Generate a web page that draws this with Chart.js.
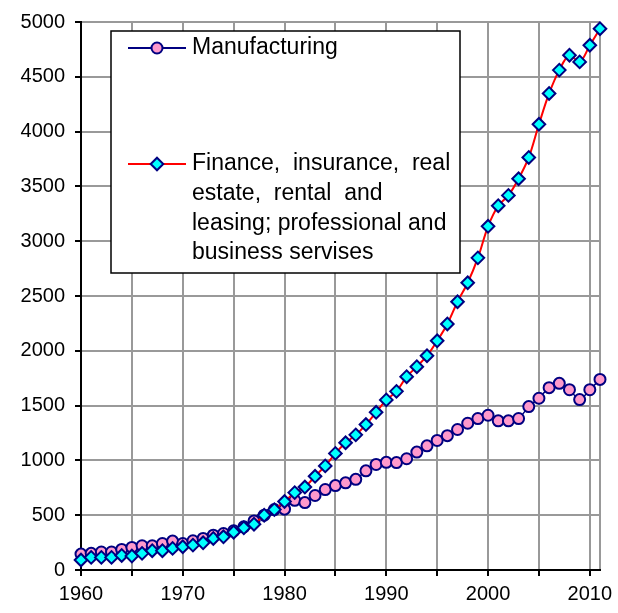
<!DOCTYPE html>
<html>
<head>
<meta charset="utf-8">
<script src="https://cdn.jsdelivr.net/npm/chart.js@4/dist/chart.umd.min.js"></script>
<style>
  html, body { margin: 0; padding: 0; background: #ffffff; }
  #wrap { width: 618px; height: 613px; position: relative; }
</style>
</head>
<body>
<div id="wrap"><canvas id="c" width="618" height="613"></canvas></div>
<script>
const years = [1960,1961,1962,1963,1964,1965,1966,1967,1968,1969,
               1970,1971,1972,1973,1974,1975,1976,1977,1978,1979,
               1980,1981,1982,1983,1984,1985,1986,1987,1988,1989,
               1990,1991,1992,1993,1994,1995,1996,1997,1998,1999,
               2000,2001,2002,2003,2004,2005,2006,2007,2008,2009,
               2010,2011];
const manufacturing = [145,152,164,164,188,206,221,221,242,264,
                       242,267,288,318,333,357,394,448,500,551,
                       555,636,615,680,734,770,795,827,905,963,
                       982,980,1015,1076,1133,1182,1226,1282,1339,1382,
                       1412,1361,1361,1382,1491,1567,1664,1703,1645,1555,
                       1645,1739];
const finance = [91,115,115,115,133,127,152,176,176,197,
                 212,227,248,288,303,345,385,418,500,551,
                 625,706,757,855,950,1064,1161,1233,1327,1439,
                 1552,1630,1764,1855,1955,2091,2245,2448,2621,2848,
                 3136,3324,3418,3570,3764,4067,4348,4561,4697,4636,
                 4788,4939];
const seriesNames = ["Manufacturing",
  "Finance, insurance, real estate, rental and leasing; professional and business servises"];
const legendLines = [
  ["Manufacturing"],
  ["Finance,  insurance,  real", "estate,  rental  and", "leasing; professional and", "business servises"]
];
const yTicks = [0,500,1000,1500,2000,2500,3000,3500,4000,4500,5000];
const xLabelYears = [1960,1970,1980,1990,2000,2010];

const FONT = '"Liberation Sans", Arial, sans-serif';

const legendPlugin = {
  id: 'boxLegend',
  afterDraw(chart) {
    const ctx = chart.ctx;
    const bx = 111, by = 31, bw = 349, bh = 242;
    ctx.save();
    ctx.fillStyle = '#ffffff';
    ctx.fillRect(bx, by, bw, bh);
    ctx.strokeStyle = '#000000';
    ctx.lineWidth = 1.5;
    ctx.strokeRect(bx, by, bw, bh);
    const rowsY = [48, 164];
    chart.data.datasets.forEach((ds, i) => {
      const y = rowsY[i];
      ctx.strokeStyle = ds.borderColor;
      ctx.lineWidth = 2;
      ctx.beginPath();
      ctx.moveTo(128, y);
      ctx.lineTo(186, y);
      ctx.stroke();
      ctx.fillStyle = ds.pointBackgroundColor;
      ctx.strokeStyle = ds.pointBorderColor;
      ctx.lineWidth = ds.pointBorderWidth;
      ctx.beginPath();
      if (ds.pointStyle === 'circle') {
        ctx.arc(157, y, ds.pointRadius, 0, Math.PI * 2);
      } else {
        const r = ds.pointRadius;
        ctx.moveTo(157, y - r); ctx.lineTo(157 + r, y); ctx.lineTo(157, y + r); ctx.lineTo(157 - r, y); ctx.closePath();
      }
      ctx.fill();
      ctx.stroke();
      ctx.fillStyle = '#000000';
      ctx.font = '23px ' + FONT;
      ctx.textBaseline = 'middle';
      ctx.textAlign = 'left';
      legendLines[i].forEach((t, k) => {
        ctx.fillText(t, 192, y + k * 29.6);
      });
    });
    ctx.restore();
  }
};

const bg = {
  id: 'bg',
  beforeDraw(chart) {
    const ctx = chart.ctx;
    ctx.save();
    ctx.fillStyle = '#ffffff';
    ctx.fillRect(0, 0, chart.width, chart.height);
    ctx.restore();
  }
};

new Chart(document.getElementById('c'), {
  type: 'line',
  data: {
    datasets: [
      {
        label: seriesNames[0],
        data: years.map((y, i) => ({ x: y, y: manufacturing[i] })),
        borderColor: '#000080',
        borderWidth: 1.5,
        backgroundColor: '#FF99CC',
        pointStyle: 'circle',
        pointRadius: 5.5,
        pointBackgroundColor: '#FF99CC',
        pointBorderColor: '#000080',
        pointBorderWidth: 2,
        tension: 0.3,
        clip: false,
        order: 1
      },
      {
        label: seriesNames[1],
        data: years.map((y, i) => ({ x: y, y: finance[i] })),
        borderColor: '#FF0000',
        borderWidth: 2,
        backgroundColor: '#00FFFF',
        pointStyle: 'rectRot',
        pointRadius: 6.3,
        pointBackgroundColor: '#00FFFF',
        pointBorderColor: '#000080',
        pointBorderWidth: 2,
        tension: 0.35,
        clip: false,
        order: 0
      }
    ]
  },
  options: {
    responsive: false,
    animation: false,
    layout: { padding: { top: 20, right: 18, left: 0, bottom: 0 } },
    plugins: { legend: { display: false }, tooltip: { enabled: false } },
    scales: {
      x: {
        type: 'linear',
        min: 1960,
        max: 2011,
        afterFit(scale) { scale.height = 43; },
        afterBuildTicks(scale) {
          const t = [];
          for (let v = 1960; v <= 2010; v += 5) t.push({ value: v });
          t.push({ value: 2011 });
          scale.ticks = t;
        },
        ticks: {
          autoSkip: false,
          maxRotation: 0,
          padding: 6,
          color: '#000000',
          font: { size: 20, family: FONT },
          callback: (v) => xLabelYears.includes(v) ? String(v) : ''
        },
        grid: {
          color: '#999999',
          lineWidth: 2,
          tickLength: 6,
          tickWidth: 2,
          tickColor: (c) => (c.tick && c.tick.value === 2011) ? 'rgba(0,0,0,0)' : '#000000'
        },
        border: { color: '#000000', width: 2 }
      },
      y: {
        min: 0,
        max: 5000,
        afterFit(scale) { scale.width = 81; },
        afterBuildTicks(scale) { scale.ticks = yTicks.map(v => ({ value: v })); },
        ticks: {
          padding: 10,
          color: '#000000',
          font: { size: 20, family: FONT },
          callback: (v) => String(v)
        },
        grid: {
          color: '#999999',
          lineWidth: 2,
          tickLength: 6,
          tickWidth: 2,
          tickColor: '#000000'
        },
        border: { color: '#000000', width: 2 }
      }
    }
  },
  plugins: [bg, legendPlugin]
});
</script>
</body>
</html>
